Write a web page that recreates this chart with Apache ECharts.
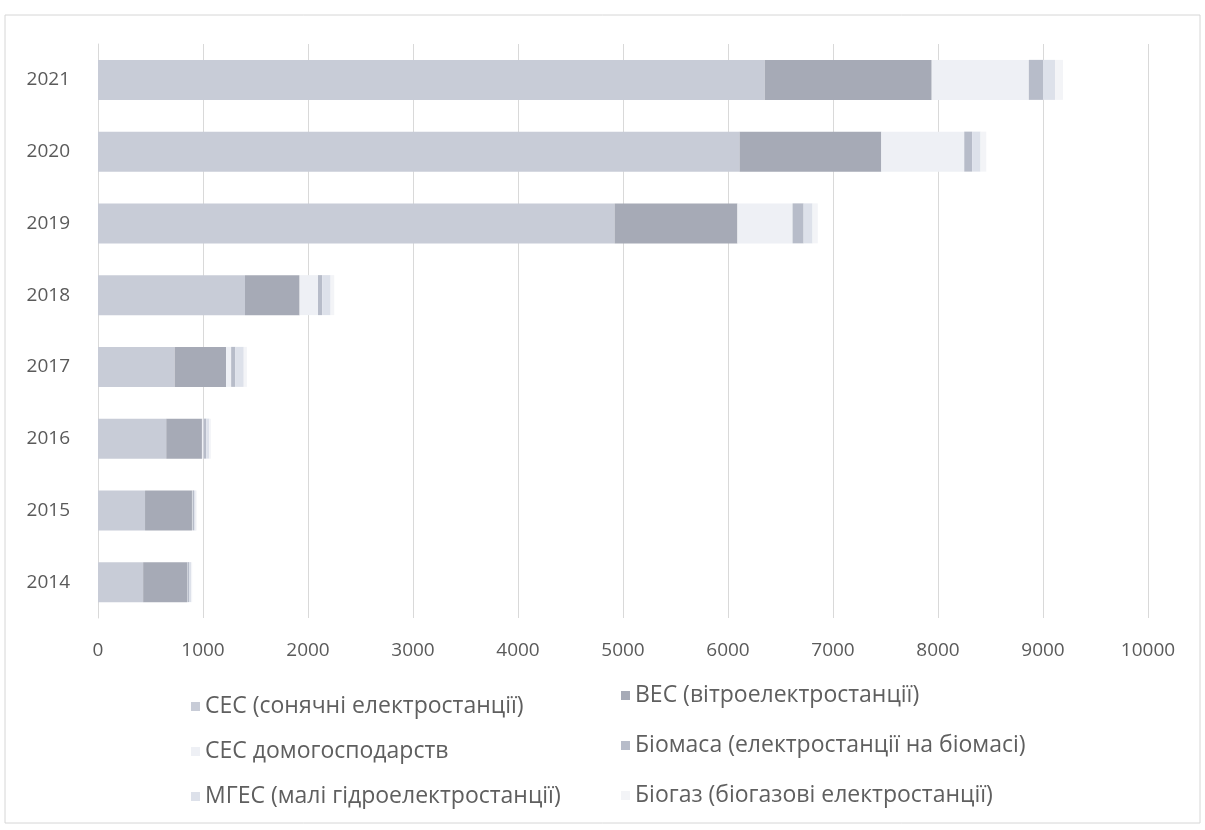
<!DOCTYPE html>
<html>
<head>
<meta charset="utf-8">
<script src="https://cdn.jsdelivr.net/npm/echarts@6/dist/echarts.min.js"></script>
<style>html,body{margin:0;padding:0;background:#fff}#c{width:1205px;height:830px}</style>
</head>
<body>
<div id="c"></div>
<script>
const years = ['2014','2015','2016','2017','2018','2019','2020','2021'];
const ses       = [430, 448, 650, 730, 1400, 4920, 6110, 6350];
const ves       = [420, 447, 340, 490, 520, 1170, 1350, 1590];
const sesHouse  = [2, 5, 15, 48, 175, 525, 790, 925];
const biomass   = [15, 15, 25, 40, 40, 105, 75, 135];
const mges      = [20, 15, 30, 80, 80, 85, 80, 115];
const biogas    = [10, 10, 15, 30, 35, 50, 55, 75];
const xTicks    = [0,1000,2000,3000,4000,5000,6000,7000,8000,9000,10000];

const names = ['СЕС (сонячні електростанції)','ВЕС (вітроелектростанції)','СЕС домогосподарств',
  'Біомаса (електростанції на біомасі)','МГЕС (малі гідроелектростанції)','Біогаз (біогазові електростанції)'];
const colors = ['#c8ccd7','#a6aab6','#eef0f5','#b7bcc9','#dde1ea','#f3f4f7'];
const values = [ses, ves, sesHouse, biomass, mges, biogas];

const series = values.map((v,i)=>({
  name: names[i], type:'bar', stack:'total', data: v, barWidth: 40,
  itemStyle:{color: colors[i]}
}));

const font = '"Open Sans", sans-serif';
const legendText = {color:'#5f5f5f', fontSize:23, fontFamily:font};
const chart = echarts.init(document.getElementById('c'));
chart.setOption({
  animation:false,
  backgroundColor:'#fff',
  graphic:[{type:'rect', shape:{x:5,y:15,width:1195,height:808}, style:{fill:'none', stroke:'#d6d6d6', lineWidth:1}}],
  grid:{left:98, right:57, top:44, bottom:212},
  xAxis:{type:'value', min:0, max:10000, interval:1000,
    axisLine:{show:false}, axisTick:{show:false},
    splitLine:{lineStyle:{color:'#d9d9d9', width:1}},
    axisLabel:{color:'#5a5a5a', fontSize:19, fontFamily:font, margin:23,
      formatter:(v)=> xTicks.includes(v)? String(v):''}},
  yAxis:{type:'category', data: years,
    axisLine:{show:true, lineStyle:{color:'#d9d9d9'}}, axisTick:{show:false},
    axisLabel:{color:'#5a5a5a', fontSize:19, fontFamily:font, margin:28}},
  legend:[
    {data:[names[0],names[2],names[4]], orient:'vertical', left:186, top:690, itemGap:22,
     icon:'rect', itemWidth:9, itemHeight:9, itemStyle:{borderWidth:0}, textStyle:legendText},
    {data:[names[1],names[3],names[5]], orient:'vertical', left:616, top:679, itemGap:27,
     icon:'rect', itemWidth:9, itemHeight:9, itemStyle:{borderWidth:0}, textStyle:legendText}
  ],
  series: series
});
</script>
</body>
</html>
